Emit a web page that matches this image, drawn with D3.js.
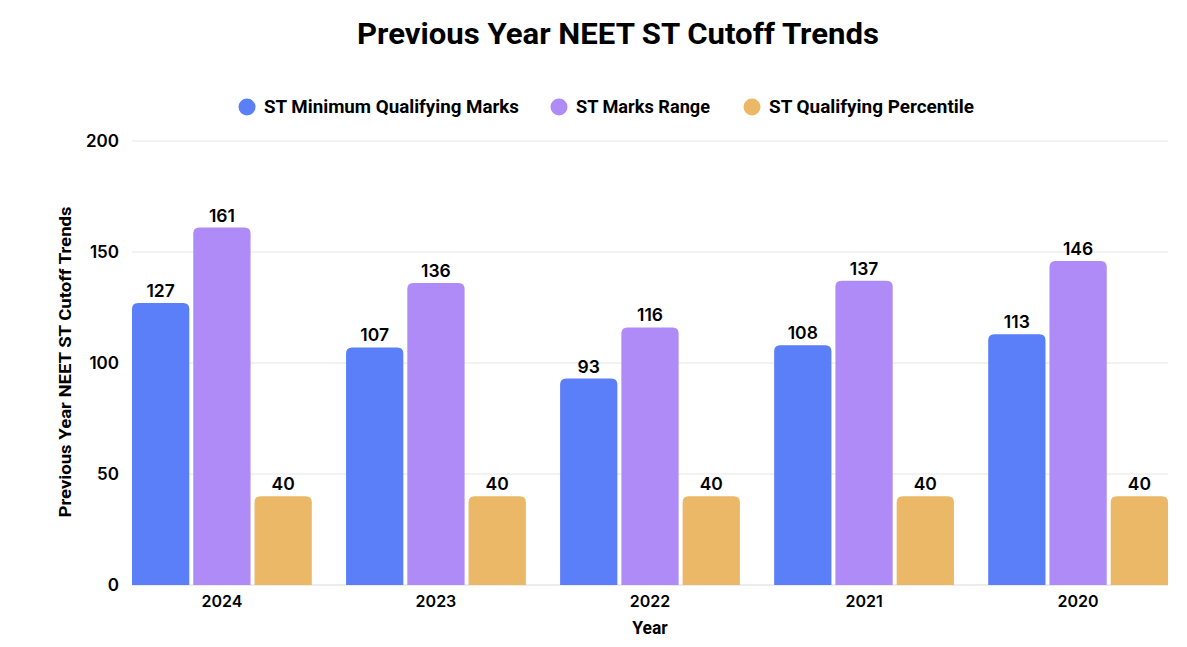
<!DOCTYPE html>
<html>
<head>
<meta charset="utf-8">
<script src="https://cdn.jsdelivr.net/npm/d3@7"></script>
<style>
  body { margin: 0; background: #fff; }
  svg { display: block; }
</style>
</head>
<body>
<div id="chart"></div>
<script>
// chart data
var years = ["2024", "2023", "2022", "2021", "2020"];
var seriesNames = ["ST Minimum Qualifying Marks", "ST Marks Range", "ST Qualifying Percentile"];
var minMarks = [127, 107, 93, 108, 113];
var marksRange = [161, 136, 116, 137, 146];
var percentile = [40, 40, 40, 40, 40];
var yTicks = [0, 50, 100, 150, 200];
var colors = ["#5b7ff9", "#ae8bf7", "#eab867"];

var W = 1187, H = 647;
var margin = {top: 141, right: 19, bottom: 62, left: 132};
var width = W - margin.left - margin.right;
var height = H - margin.top - margin.bottom;

var svg = d3.select("#chart").append("svg")
    .attr("width", W)
    .attr("height", H);

var g = svg.append("g")
    .attr("transform", "translate(" + margin.left + "," + margin.top + ")");

var x0 = d3.scaleBand().domain(years).range([0, width]).paddingInner(0.16);
var x1 = d3.scaleBand().domain(seriesNames).range([0, x0.bandwidth()]).paddingInner(0.065);
var y = d3.scaleLinear().domain([0, 200]).range([height, 0]);

var font = "Inter, 'DejaVu Sans', sans-serif";

// grid lines
g.selectAll(".grid")
    .data(yTicks)
  .enter().append("line")
    .attr("x1", 0)
    .attr("x2", width)
    .attr("y1", function(d) { return y(d); })
    .attr("y2", function(d) { return y(d); })
    .attr("stroke", function(d) { return d === 0 ? "#d9d9d9" : "#e6e6e6"; })
    .attr("stroke-width", 1);

// y tick labels
g.selectAll(".ytick")
    .data(yTicks)
  .enter().append("text")
    .attr("x", -13)
    .attr("y", function(d) { return y(d); })
    .attr("dy", "0.36em")
    .attr("text-anchor", "end")
    .attr("font-family", font)
    .attr("font-weight", 600)
    .attr("font-size", 17)
    .attr("fill", "#000")
    .text(function(d) { return d; });

// rounded-top bar path
function barPath(bx, by, bw, bh, r) {
  r = Math.min(r, bh, bw / 2);
  return "M" + bx + "," + (by + bh) +
    "V" + (by + r) +
    "Q" + bx + "," + by + " " + (bx + r) + "," + by +
    "H" + (bx + bw - r) +
    "Q" + (bx + bw) + "," + by + " " + (bx + bw) + "," + (by + r) +
    "V" + (by + bh) + "Z";
}

var rows = years.map(function(yr, i) {
  return {year: yr, values: [minMarks[i], marksRange[i], percentile[i]]};
});

var groups = g.selectAll(".group")
    .data(rows)
  .enter().append("g")
    .attr("transform", function(d) { return "translate(" + x0(d.year) + ",0)"; });

var cells = groups.selectAll(".cell")
    .data(function(d) {
      return d.values.map(function(v, j) { return {name: seriesNames[j], value: v, idx: j}; });
    })
  .enter().append("g");

cells.append("path")
    .attr("fill", function(d) { return colors[d.idx]; })
    .attr("d", function(d) {
      return barPath(x1(d.name), y(d.value), x1.bandwidth(), height - y(d.value), 6);
    });

cells.append("text")
    .attr("x", function(d) { return x1(d.name) + x1.bandwidth() / 2; })
    .attr("y", function(d) { return y(d.value) - 6; })
    .attr("text-anchor", "middle")
    .attr("font-family", font)
    .attr("font-weight", 600)
    .attr("font-size", 17.5)
    .attr("fill", "#000")
    .text(function(d) { return d.value; });

// x tick labels
g.selectAll(".xtick")
    .data(years)
  .enter().append("text")
    .attr("x", function(d) { return x0(d) + x0.bandwidth() / 2; })
    .attr("y", height + 22)
    .attr("text-anchor", "middle")
    .attr("font-family", font)
    .attr("font-weight", 600)
    .attr("font-size", 16)
    .attr("fill", "#000")
    .text(function(d) { return d; });

// x label
g.append("text")
    .attr("x", width / 2)
    .attr("y", height + 49)
    .attr("text-anchor", "middle")
    .attr("font-family", "Roboto, sans-serif")
    .attr("font-weight", 700)
    .attr("font-size", 17.5)
    .text("Year");

// y label
g.append("text")
    .attr("transform", "rotate(-90)")
    .attr("x", -height / 2 + 1)
    .attr("y", -61)
    .attr("text-anchor", "middle")
    .attr("font-family", "Roboto, sans-serif")
    .attr("font-weight", 700)
    .attr("font-size", 16.5)
    .attr("textLength", 311)
    .attr("lengthAdjust", "spacingAndGlyphs")
    .text("Previous Year NEET ST Cutoff Trends");

// title
svg.append("text")
    .attr("x", 618)
    .attr("y", 44)
    .attr("text-anchor", "middle")
    .attr("font-family", "Roboto, sans-serif")
    .attr("font-weight", 700)
    .attr("font-size", 30)
    .attr("textLength", 522)
    .attr("lengthAdjust", "spacingAndGlyphs")
    .text("Previous Year NEET ST Cutoff Trends");

// legend
var legendX = [247, 559, 752];
var legendW = [255, 134, 205];
var legend = svg.selectAll(".legend")
    .data(seriesNames)
  .enter().append("g")
    .attr("transform", function(d, i) { return "translate(" + legendX[i] + ",107)"; });

legend.append("circle")
    .attr("r", 8.5)
    .attr("fill", function(d, i) { return colors[i]; });

legend.append("text")
    .attr("x", 17)
    .attr("dy", "0.35em")
    .attr("font-family", "Roboto, sans-serif")
    .attr("font-weight", 700)
    .attr("font-size", 18)
    .attr("textLength", function(d, i) { return legendW[i]; })
    .attr("lengthAdjust", "spacingAndGlyphs")
    .text(function(d) { return d; });
</script>
</body>
</html>
